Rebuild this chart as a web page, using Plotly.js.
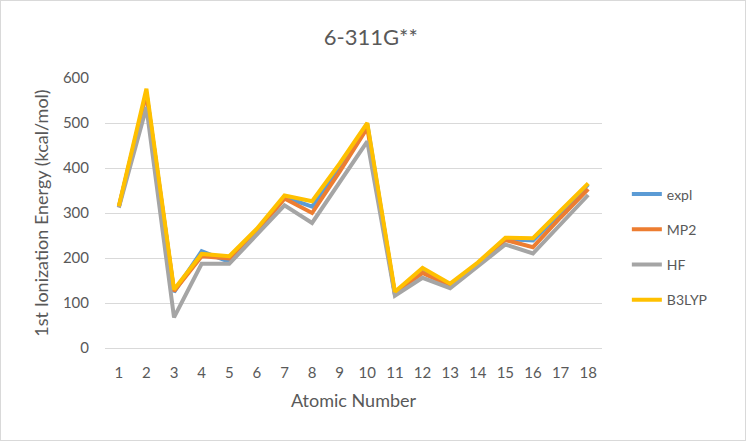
<!DOCTYPE html>
<html>
<head>
<meta charset="utf-8">
<script src="https://cdn.plot.ly/plotly-3.0.1.min.js"></script>
<style>
  body { margin: 0; background: #fff; }
  #myDiv { width: 744px; height: 439px; border: 1px solid #d9d9d9; }
</style>
</head>
<body>
<div id="myDiv"></div>
<script>
var atomicNumbers = ['1','2','3','4','5','6','7','8','9','10','11','12','13','14','15','16','17','18'];
var expl  = [313.6, 567.0, 124.3, 215.0, 191.4, 259.7, 335.2, 314.0, 401.8, 497.3, 118.5, 176.3, 138.0, 187.9, 241.8, 238.9, 299.1, 363.4];
var mp2   = [313, 566, 126, 204, 199, 258, 332, 300, 392, 489, 120, 167, 138, 186, 240, 224, 290, 353];
var hf    = [312, 535, 68, 187, 187, 252, 317, 278, 368, 459, 116, 156, 133, 182, 230, 210, 275, 340];
var b3lyp = [315, 576, 130, 209, 204, 265, 339, 326, 410, 500, 125, 178, 143, 190, 245, 244, 305, 366];

var font = 'Lato, "Open Sans", sans-serif';

function series(name, values, color) {
  return {
    x: atomicNumbers,
    y: values,
    name: name,
    legendgroup: name,
    type: 'scatter',
    mode: 'lines',
    line: { color: color, width: 4 }
  };
}

var data = [
  series('expl', expl, '#5B9BD5'),
  series('MP2', mp2, '#ED7D31'),
  series('HF', hf, '#A5A5A5'),
  series('B3LYP', b3lyp, '#FFC000')
];

var layout = {
  width: 744,
  height: 439,
  margin: { l: 104, r: 143, t: 77, b: 92 },
  paper_bgcolor: '#fff',
  plot_bgcolor: '#fff',
  font: { family: font, color: '#595959' },
  title: {
    text: '6-311G**',
    font: { family: font, size: 22, color: '#595959' },
    xref: 'container',
    x: 0.497,
    y: 0.918,
    yanchor: 'middle'
  },
  xaxis: {
    type: 'category',
    range: [-0.5, 17.5],
    showgrid: false,
    showline: false,
    ticks: '',
    ticklabelstandoff: 14,
    tickfont: { size: 15, color: '#595959' },
    title: { text: 'Atomic Number', font: { size: 18, color: '#595959' }, standoff: 14 }
  },
  yaxis: {
    range: [0, 600],
    dtick: 100,
    gridcolor: '#d9d9d9',
    gridwidth: 1,
    zerolinecolor: '#d9d9d9',
    showline: false,
    ticks: '',
    ticklabelstandoff: 15,
    tickfont: { size: 15, color: '#595959' },
    title: { text: '1st Ionization Energy (kcal/mol)', font: { size: 18, color: '#595959' }, standoff: 9 }
  },
  legend: {
    x: 1.05,
    xanchor: 'left',
    y: 0.374,
    yanchor: 'middle',
    traceorder: 'grouped',
    tracegroupgap: 14,
    font: { size: 14, color: '#595959' },
    bgcolor: 'rgba(0,0,0,0)'
  },
  showlegend: true
};

Plotly.newPlot('myDiv', data, layout, { displayModeBar: false });
</script>
</body>
</html>
